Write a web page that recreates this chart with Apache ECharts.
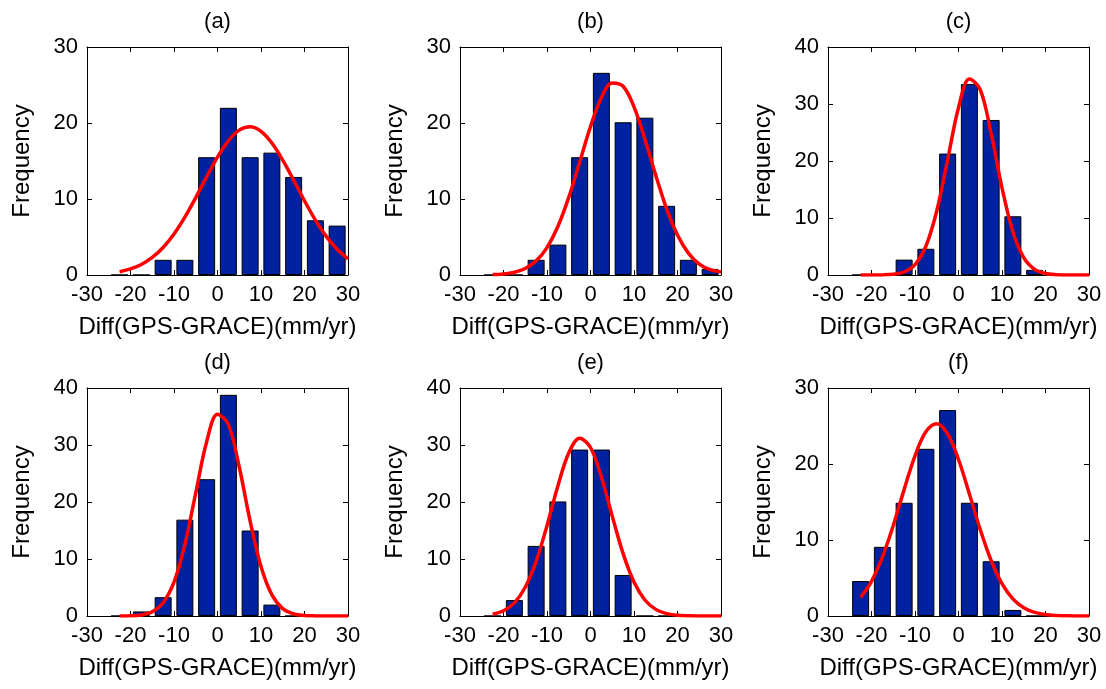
<!DOCTYPE html>
<html>
<head>
<meta charset="utf-8">
<script src="https://cdn.jsdelivr.net/npm/echarts@6/dist/echarts.min.js"></script>
<style>
  html, body { margin: 0; padding: 0; background: #fff; }
  #chart { width: 1106px; height: 689px; }
</style>
</head>
<body>
<div id="chart"></div>
<script>
// histogram bins (centres) and frequencies per panel
const panelTitles = ['(a)', '(b)', '(c)', '(d)', '(e)', '(f)']
const binCenters = [-22.5, -17.5, -12.5, -7.5, -2.5, 2.5, 7.5, 12.5, 17.5, 22.5, 27.5]
const freqA = [0, 0, 2, 2, 15.5, 22, 15.5, 16.1, 12.9, 7.2, 6.5]
const freqB = [0, 0, 2, 4, 15.5, 26.6, 20.1, 20.7, 9.1, 2, 0.8]
const freqC = [0, 0, 2.7, 4.6, 21.3, 33.5, 27.2, 10.3, 0.9, 0, 0]
const freqD = [0, 0.8, 3.3, 16.9, 24, 38.8, 15, 2, 0, 0, 0]
const freqE = [0, 2.8, 12.3, 20.1, 29.2, 29.2, 7.2, 0, 0, 0, 0]
const freqF = [4.6, 9.1, 14.9, 22, 27.1, 14.9, 7.2, 0.8, 0, 0, 0]

// fitted curves
const curveX = [-22.5, -20, -17.5, -15, -12.5, -10, -7.5, -5, -2.5, 0, 2.5, 5, 7.5, 10, 12.5, 15, 17.5, 20, 22.5, 25, 27.5, 30]
const fitA = [0.43, 0.8, 1.39, 2.31, 3.62, 5.4, 7.62, 10.19, 12.91, 15.51, 17.66, 19.06, 19.5, 18.9, 17.36, 15.11, 12.48, 9.76, 7.23, 5.08, 3.39, 2.13]
const fitB = [0.05, 0.14, 0.37, 0.86, 1.86, 3.61, 6.38, 10.21, 14.83, 19.53, 23.33, 25.27, 24.83, 22.13, 17.88, 13.12, 8.71, 5.26, 2.88, 1.43, 0.7, 0.4]
const fitC = [0, 0, 0.02, 0.13, 0.53, 1.82, 5.04, 11.23, 20.2, 29.34, 34.39, 32.52, 24.83, 15.29, 7.6, 3.05, 0.99, 0.26, 0.05, 0, 0, 0]
const fitD = [0.01, 0.04, 0.19, 0.73, 2.31, 5.93, 12.51, 21.59, 30.54, 35.4, 33.61, 26.14, 16.66, 8.69, 3.72, 1.3, 0.37, 0.09, 0.02, 0, 0, 0]
const fitE = [0.32, 0.92, 2.3, 5.04, 9.58, 15.85, 22.82, 28.59, 31.17, 29.56, 24.39, 17.52, 10.94, 5.95, 2.81, 1.16, 0.41, 0.13, 0.04, 0.01, 0, 0]
const fitF = [2.44, 4.56, 7.74, 11.9, 16.63, 21.08, 24.24, 25.3, 23.96, 20.59, 16.06, 11.37, 7.3, 4.25, 2.25, 1.08, 0.47, 0.19, 0.07, 0.02, 0.01, 0]

const yMaxes = [30, 30, 40, 40, 40, 30]
const xMin = -30, xMax = 30, tickStep = 10

const freqs = [freqA, freqB, freqC, freqD, freqE, freqF]
const fits = [fitA, fitB, fitC, fitD, fitE, fitF]

const FONT = "'Liberation Sans', Arial, Helvetica, sans-serif"
const colLefts = [87, 460, 828]
const rowTops = [47, 388]
const plotW = 261, plotH = 228

const grid = [], xAxis = [], yAxis = [], series = [], title = []

freqs.forEach((freq, i) => {
  const col = i % 3, row = Math.floor(i / 3)
  const left = colLefts[col], top = rowTops[row]
  grid.push({ left, top, width: plotW, height: plotH, containLabel: false })

  title.push({
    text: panelTitles[i],
    left: left + plotW / 2,
    top: top - 36,
    textAlign: 'center',
    padding: 0,
    textStyle: { fontFamily: FONT, fontSize: 22, fontWeight: 'normal', color: '#000' },
  })

  const line = { show: true, onZero: false, lineStyle: { color: '#000', width: 1 } }
  const tick = { show: true, inside: true, length: 5, lineStyle: { color: '#000' } }
  // bottom axis with labels
  xAxis.push({
    type: 'value', gridIndex: i, position: 'bottom',
    min: xMin, max: xMax, interval: tickStep,
    axisLine: line, axisTick: tick, splitLine: { show: false },
    axisLabel: { fontFamily: FONT, fontSize: 22, color: '#000', margin: 9 },
    name: 'Diff(GPS-GRACE)(mm/yr)', nameLocation: 'middle', nameGap: 40,
    nameTextStyle: { fontFamily: FONT, fontSize: 24, color: '#000' },
  })
  // top axis: box edge + ticks only
  xAxis.push({
    type: 'value', gridIndex: i, position: 'top',
    min: xMin, max: xMax, interval: tickStep,
    axisLine: line, axisTick: tick, splitLine: { show: false },
    axisLabel: { show: false },
  })
  yAxis.push({
    type: 'value', gridIndex: i, position: 'left',
    min: 0, max: yMaxes[i], interval: tickStep,
    axisLine: line, axisTick: tick, splitLine: { show: false },
    axisLabel: { fontFamily: FONT, fontSize: 22, color: '#000', margin: 9 },
    name: 'Frequency', nameLocation: 'middle', nameGap: 53,
    nameTextStyle: { fontFamily: FONT, fontSize: 24, color: '#000' },
  })
  yAxis.push({
    type: 'value', gridIndex: i, position: 'right',
    min: 0, max: yMaxes[i], interval: tickStep,
    axisLine: line, axisTick: tick, splitLine: { show: false },
    axisLabel: { show: false },
  })

  series.push({
    type: 'bar',
    xAxisIndex: 2 * i, yAxisIndex: 2 * i,
    data: binCenters.map((x, k) => [x, freq[k]]),
    barWidth: 17,
    itemStyle: { color: '#0021a0', borderColor: '#000', borderWidth: 1 },
    z: 2,
  })
  series.push({
    type: 'line',
    xAxisIndex: 2 * i, yAxisIndex: 2 * i,
    data: curveX.map((x, k) => [x, fits[i][k]]),
    smooth: 0.35,
    showSymbol: false,
    lineStyle: { color: '#ff0000', width: 3.5 },
    z: 3,
  })
})

const chart = echarts.init(document.getElementById('chart'))
chart.setOption({
  animation: false,
  backgroundColor: '#fff',
  title, grid, xAxis, yAxis, series,
})
</script>
</body>
</html>
